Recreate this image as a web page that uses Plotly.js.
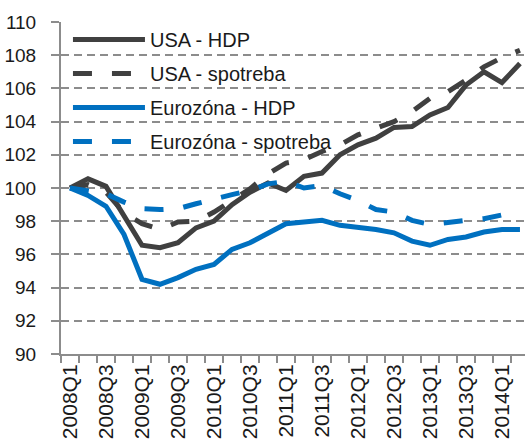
<!DOCTYPE html>
<html>
<head>
<meta charset="utf-8">
<script src="https://cdn.plot.ly/plotly-3.0.1.min.js"></script>
<style>html,body{margin:0;padding:0;background:#fff;}#chart{width:525px;height:445px;}</style>
</head>
<body>
<div id="chart"></div>
<script>
var quarters = ["2008Q1","2008Q2","2008Q3","2008Q4","2009Q1","2009Q2","2009Q3","2009Q4",
  "2010Q1","2010Q2","2010Q3","2010Q4","2011Q1","2011Q2","2011Q3","2011Q4",
  "2012Q1","2012Q2","2012Q3","2012Q4","2013Q1","2013Q2","2013Q3","2013Q4",
  "2014Q1","2014Q2"];
var usaHdp = [100.0,100.55,100.1,98.3,96.55,96.4,96.7,97.6,98.0,99.0,99.75,100.3,99.85,100.7,100.9,102.0,
  102.6,103.0,103.65,103.7,104.4,104.85,106.2,107.0,106.35,107.5];
var usaSpotreba = [100.0,100.2,99.75,98.5,97.85,97.5,97.95,98.0,98.55,99.25,99.95,100.85,101.5,101.7,102.2,102.6,
  103.2,103.6,104.0,104.6,105.4,105.8,106.5,107.3,107.85,108.3];
var ezHdp = [100.0,99.55,98.9,97.2,94.5,94.2,94.6,95.1,95.4,96.3,96.7,97.25,97.85,97.95,98.05,97.75,
  97.65,97.5,97.3,96.8,96.55,96.9,97.05,97.35,97.5,97.5];
var ezSpotreba = [100.0,99.85,99.65,99.15,98.75,98.7,98.75,99.05,99.35,99.6,99.85,100.25,100.4,100.0,100.15,99.65,
  99.25,98.7,98.55,98.05,97.8,97.95,98.05,98.15,98.35,98.6];
var seriesNames = ["USA - HDP","USA - spotreba","Eurozóna - HDP","Eurozóna - spotreba"];
var yTicks = [90,92,94,96,98,100,102,104,106,108,110];

var tickText = quarters.map(function(q,i){ return i % 2 === 0 ? q : ""; });

var dark = "#404040", blue = "#0070c0";
var dashPat = "19px,20px";
function tr(y, name, color, dash, grp) {
  return {x: quarters, y: y, name: name, type: "scatter", mode: "lines", legendgroup: grp,
    line: {color: color, width: 5, dash: dash}, hoverinfo: "skip"};
}
var data = [
  tr(usaHdp, seriesNames[0], dark, "solid", "a"),
  tr(usaSpotreba, seriesNames[1], dark, dashPat, "b"),
  tr(ezHdp, seriesNames[2], blue, "solid", "c"),
  tr(ezSpotreba, seriesNames[3], blue, dashPat, "d")
];
var gray = "#8c8c8c";
var layout = {
  width: 525, height: 445,
  margin: {l: 61, r: 0, t: 22, b: 91, pad: 0},
  paper_bgcolor: "#fff", plot_bgcolor: "#fff",
  font: {family: "Liberation Sans, Arial, sans-serif", size: 18, color: "#1a1a1a"},
  showlegend: true,
  legend: {x: 0.015, y: 1.006, xanchor: "left", yanchor: "top", bgcolor: "rgba(0,0,0,0)",
    font: {size: 20, color: "#1a1a1a"}, traceorder: "grouped", tracegroupgap: 5, itemwidth: 72},
  xaxis: {type: "category", range: [-0.5, 25.28], tickmode: "array", tickvals: quarters, ticktext: tickText,
    tickson: "boundaries", ticks: "outside", ticklen: 7, tickwidth: 2, tickcolor: gray,
    showline: true, linecolor: gray, linewidth: 2, showgrid: false, zeroline: false,
    tickangle: -90, tickfont: {size: 21}, fixedrange: true},
  yaxis: {range: [90, 110], tickmode: "array", tickvals: yTicks, ticks: "outside", ticklen: 8, tickwidth: 2,
    tickcolor: gray, showline: true, linecolor: gray, linewidth: 2, showgrid: true, gridcolor: gray,
    gridwidth: 2, griddash: "8px,5px", zeroline: false, tickfont: {size: 19}, ticklabelstandoff: 11, fixedrange: true}
};
Plotly.newPlot("chart", data, layout, {staticPlot: true, displayModeBar: false});
</script>
</body>
</html>
